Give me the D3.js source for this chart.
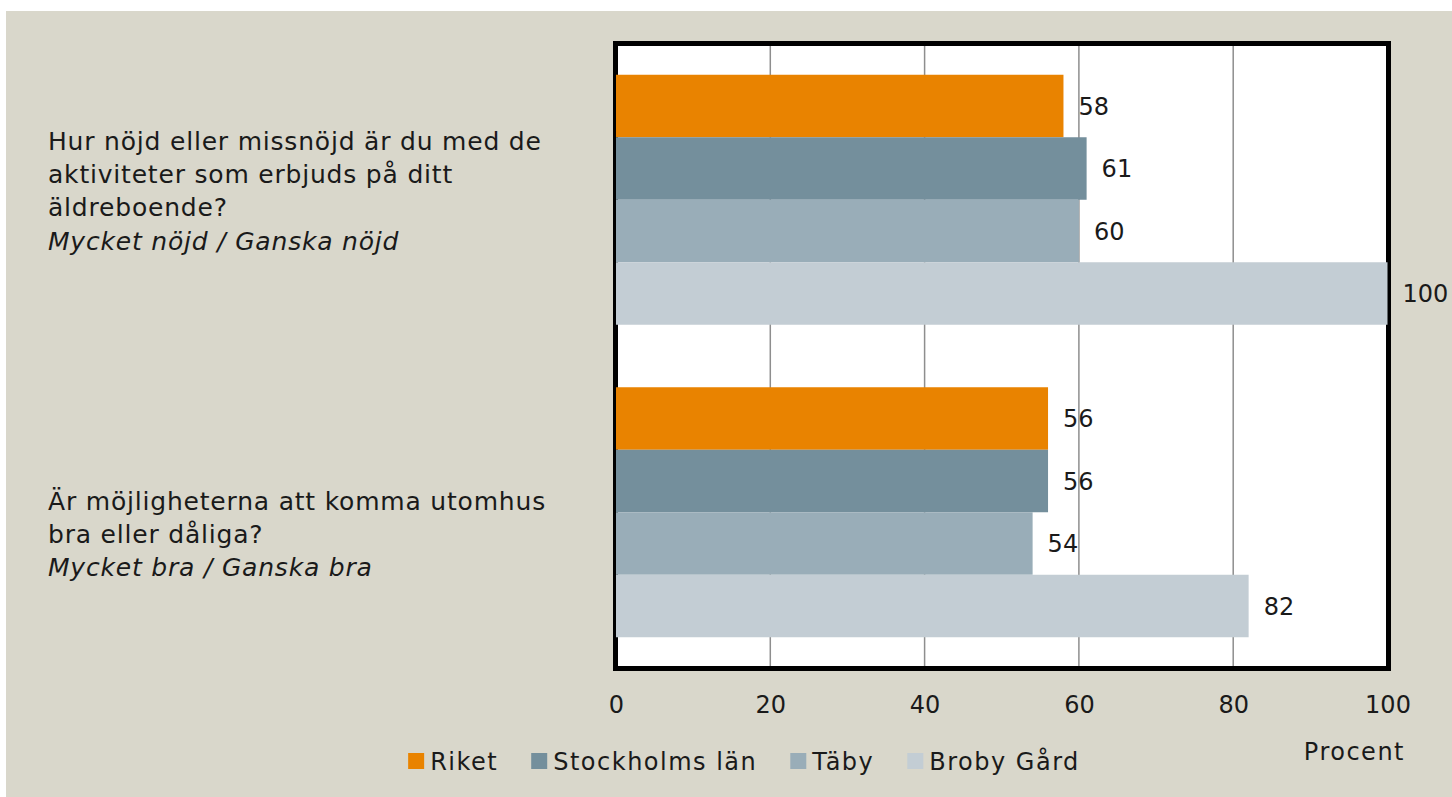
<!DOCTYPE html>
<html>
<head>
<meta charset="utf-8">
<script src="https://cdn.jsdelivr.net/npm/d3@7"></script>
<style>
  body { margin: 0; background: #fff; }
  svg text { font-family: "Century Gothic", "DejaVu Sans", sans-serif; fill: #1a1a1a; }
</style>
</head>
<body>
<div class="chart"></div>
<script>
// data
const questions = ["q1", "q2"];
const questionLines = [
    ["Hur nöjd eller missnöjd är du med de", "aktiviteter som erbjuds på ditt", "äldreboende?"],
    ["Är möjligheterna att komma utomhus", "bra eller dåliga?"]
];
const questionAnswers = ["Mycket nöjd / Ganska nöjd", "Mycket bra / Ganska bra"];
const seriesNames = ["Riket", "Stockholms län", "Täby", "Broby Gård"];
const riket = [58, 56];
const stockholm = [61, 56];
const taby = [60, 54];
const broby = [100, 82];
const tickValues = [0, 20, 40, 60, 80, 100];
const axisTitle = "Procent";

const seriesValues = [riket, stockholm, taby, broby];
const colors = ["#E98300", "#748F9C", "#99ADB8", "#C3CDD4"];

const W = 1452, H = 797;
const plot = {left: 615.5, right: 1388.5, top: 43.5, bottom: 668.5};

const svg = d3.select(".chart").append("svg")
    .attr("width", W)
    .attr("height", H);

// beige backdrop
svg.append("rect")
    .attr("x", 6).attr("y", 11)
    .attr("width", W - 6).attr("height", H - 11)
    .attr("fill", "#D9D7CB");

const x = d3.scaleLinear().domain([0, 100]).range([616, 1387.5]);
const y0 = d3.scaleBand().domain(questions).range([plot.top, plot.bottom]);
const y1 = d3.scaleBand().domain(seriesNames).range([0, y0.bandwidth()]).paddingOuter(0.5);

// plot frame
svg.append("rect")
    .attr("x", plot.left).attr("y", plot.top)
    .attr("width", plot.right - plot.left)
    .attr("height", plot.bottom - plot.top)
    .attr("fill", "#fff")
    .attr("stroke", "#000")
    .attr("stroke-width", 5);

// gridlines
svg.append("g")
    .selectAll("line")
    .data(tickValues.filter(d => d > 0 && d < 100))
    .enter()
    .append("line")
    .attr("x1", d => x(d)).attr("x2", d => x(d))
    .attr("y1", plot.top + 2.5).attr("y2", plot.bottom - 2.5)
    .attr("stroke", "#8E8E8E")
    .attr("stroke-width", 1.5);

// bars
const rows = [];
questions.forEach((q, qi) => {
    seriesNames.forEach((s, si) => {
        rows.push({q: q, s: s, v: seriesValues[si][qi], c: colors[si]});
    });
});

svg.selectAll(".bar")
    .data(rows)
    .enter()
    .append("rect")
    .attr("class", "bar")
    .attr("x", x(0))
    .attr("y", d => y0(d.q) + y1(d.s))
    .attr("width", d => x(d.v) - x(0))
    .attr("height", y1.bandwidth())
    .attr("fill", d => d.c);

svg.selectAll(".val")
    .data(rows)
    .enter()
    .append("text")
    .attr("class", "val")
    .attr("x", d => x(d.v) + 15)
    .attr("y", d => y0(d.q) + y1(d.s) + y1.bandwidth() / 2)
    .attr("dy", "0.36em")
    .style("font-size", "24px")
    .text(d => d.v);

// x axis labels
const xAxis = d3.axisBottom(x)
    .tickValues(tickValues)
    .tickSize(0)
    .tickPadding(0);

const gx = svg.append("g")
    .attr("transform", "translate(0, 696)")
    .call(xAxis);
gx.select(".domain").remove();
gx.selectAll("text")
    .style("font-family", "\"Century Gothic\", \"DejaVu Sans\", sans-serif")
    .style("font-size", "24px")
    .attr("fill", "#1a1a1a");

svg.append("text")
    .attr("x", 1405)
    .attr("y", 760)
    .attr("text-anchor", "end")
    .style("font-size", "24px")
    .style("letter-spacing", "1.5px")
    .text(axisTitle);

// question labels
const firstBaseline = [106.5, 154];
const lineGap = 33.2;
questions.forEach((q, qi) => {
    const lines = questionLines[qi];
    const t = svg.append("text")
        .attr("x", 48)
        .attr("y", y0(q) + firstBaseline[qi])
        .style("font-size", "25px")
        .style("letter-spacing", "0.8px");
    lines.forEach((l, li) => {
        t.append("tspan")
            .attr("x", 48)
            .attr("dy", li === 0 ? 0 : lineGap)
            .text(l);
    });
    t.append("tspan")
        .attr("x", 48)
        .attr("dy", lineGap)
        .style("font-style", "italic")
        .text(questionAnswers[qi]);
});

// legend
const legend = svg.append("g");
let lx = 0;
seriesNames.forEach((s, i) => {
    const item = legend.append("g").attr("transform", `translate(${lx}, 0)`);
    item.append("rect")
        .attr("x", 0).attr("y", 753)
        .attr("width", 16).attr("height", 16)
        .attr("fill", colors[i]);
    const tx = item.append("text")
        .attr("x", 22).attr("y", 770)
        .style("font-size", "24px")
        .style("letter-spacing", "1.5px")
        .text(s);
    lx += 22 + tx.node().getComputedTextLength() + 33;
});
const legendWidth = lx - 33;
legend.attr("transform", `translate(${744 - legendWidth / 2}, 0)`);
</script>
</body>
</html>
